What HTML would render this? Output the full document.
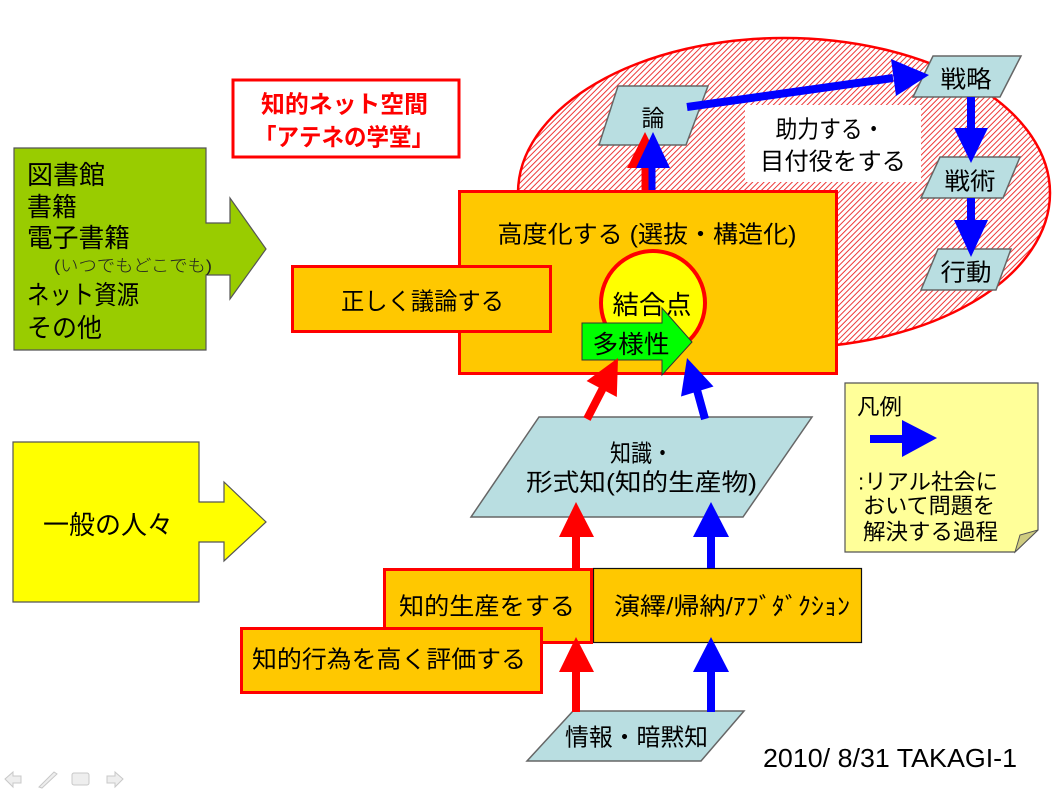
<!DOCTYPE html>
<html>
<head>
<meta charset="utf-8">
<style>
html,body{margin:0;padding:0;background:#fff;}
svg{display:block;}
text{font-family:"Liberation Sans","Noto Sans CJK JP",sans-serif;fill:#000;}
</style>
</head>
<body>
<svg width="1058" height="800" viewBox="0 0 1058 800" xmlns="http://www.w3.org/2000/svg">
<defs>
<pattern id="hatch" width="4" height="4" patternUnits="userSpaceOnUse" patternTransform="rotate(45)">
<rect width="4" height="4" fill="#fff"/>
<line x1="1" y1="0" x2="1" y2="4" stroke="#EE3838" stroke-width="1"/>
</pattern>
</defs>

<!-- ellipse -->
<ellipse cx="784" cy="193" rx="266" ry="155" fill="url(#hatch)" stroke="#FF0000" stroke-width="2.5"/>

<!-- white help box -->
<rect x="745" y="105" width="176" height="77" fill="#fff"/>
<text x="830" y="130" font-size="24" text-anchor="middle" dominant-baseline="central" textLength="109" lengthAdjust="spacingAndGlyphs">助力する・</text>
<text x="833" y="162" font-size="24" text-anchor="middle" dominant-baseline="central" textLength="146" lengthAdjust="spacingAndGlyphs">目付役をする</text>

<!-- right parallelograms -->
<polygon points="618,86 708,86 686,145 599,145" fill="#B9DEE1" stroke="#666" stroke-width="1.5"/>
<text x="653" y="118" font-size="23" text-anchor="middle" dominant-baseline="central">論</text>
<polygon points="933,56 1021,56 1000,97 913,97" fill="#B9DEE1" stroke="#666" stroke-width="1.5"/>
<text x="966" y="80" font-size="24" text-anchor="middle" dominant-baseline="central" textLength="51" lengthAdjust="spacingAndGlyphs">戦略</text>
<polygon points="940,157 1020,157 1003,198 921,198" fill="#B9DEE1" stroke="#666" stroke-width="1.5"/>
<text x="970" y="182" font-size="24" text-anchor="middle" dominant-baseline="central" textLength="51" lengthAdjust="spacingAndGlyphs">戦術</text>
<polygon points="938,249 1011,249 996,290 921,290" fill="#B9DEE1" stroke="#666" stroke-width="1.5"/>
<text x="966" y="273" font-size="24" text-anchor="middle" dominant-baseline="central" textLength="51" lengthAdjust="spacingAndGlyphs">行動</text>

<!-- blue diagonal arrow -->
<line x1="687" y1="107" x2="893" y2="78" stroke="#0000FF" stroke-width="8"/>
<polygon points="891,59 929,75 896,96" fill="#0000FF"/>
<!-- vertical blue arrows -->
<line x1="971" y1="97" x2="971" y2="130" stroke="#0000FF" stroke-width="8"/>
<polygon points="954,128 988,128 971,163" fill="#0000FF"/>
<line x1="971" y1="198" x2="971" y2="222" stroke="#0000FF" stroke-width="8"/>
<polygon points="954,220 988,220 971,257" fill="#0000FF"/>

<!-- title box -->
<rect x="233" y="80" width="226" height="77" fill="#fff" stroke="#FF0000" stroke-width="3"/>
<text x="344.5" y="105" font-size="24" font-weight="bold" text-anchor="middle" dominant-baseline="central" style="fill:#FF0000" textLength="167" lengthAdjust="spacingAndGlyphs">知的ネット空間</text>
<text x="344" y="138" font-size="24" font-weight="bold" text-anchor="middle" dominant-baseline="central" style="fill:#FF0000" textLength="180" lengthAdjust="spacingAndGlyphs">「アテネの学堂」</text>

<!-- green arrow box -->
<polygon points="14,148 206,148 206,223 230,223 230,198 266,249 230,299 230,275 206,275 206,350 14,350" fill="#99CC00" stroke="#555" stroke-width="1.2"/>
<text x="27" y="175" font-size="26" dominant-baseline="central" textLength="78" lengthAdjust="spacingAndGlyphs">図書館</text>
<text x="27" y="207" font-size="26" dominant-baseline="central" textLength="50" lengthAdjust="spacingAndGlyphs">書籍</text>
<text x="27" y="238" font-size="26" dominant-baseline="central" textLength="103" lengthAdjust="spacingAndGlyphs">電子書籍</text>
<text x="54" y="266" font-size="17" font-weight="300" dominant-baseline="central" textLength="158" lengthAdjust="spacingAndGlyphs" style="fill:#222">(いつでもどこでも)</text>
<text x="27" y="295" font-size="26" dominant-baseline="central" textLength="112" lengthAdjust="spacingAndGlyphs">ネット資源</text>
<text x="27" y="328" font-size="26" dominant-baseline="central" textLength="75" lengthAdjust="spacingAndGlyphs">その他</text>

<!-- arrows up into 論 -->
<line x1="645" y1="192" x2="645" y2="165" stroke="#FF0000" stroke-width="7"/>
<polygon points="627,168 663,168 645,132" fill="#FF0000"/>
<line x1="652" y1="192" x2="652" y2="165" stroke="#0000FF" stroke-width="7"/>
<polygon points="636,168 670,168 653,132" fill="#0000FF"/>

<!-- big orange box -->
<rect x="459.5" y="191.5" width="377" height="182" fill="#FFC800" stroke="#FF0000" stroke-width="3"/>
<text x="647" y="235" font-size="24" text-anchor="middle" dominant-baseline="central" textLength="299" lengthAdjust="spacingAndGlyphs">高度化する (選抜・構造化)</text>

<!-- circle -->
<circle cx="653" cy="303" r="52" fill="#FFFF00" stroke="#FF0000" stroke-width="4"/>
<text x="652" y="305" font-size="26" text-anchor="middle" dominant-baseline="central" textLength="79" lengthAdjust="spacingAndGlyphs">結合点</text>

<!-- green 多様性 arrow -->
<polygon points="582,323 662,323 662,308 692,342 662,375 662,360 582,360" fill="#00FF00" stroke="#333" stroke-width="1"/>
<text x="631" y="345" font-size="25" text-anchor="middle" dominant-baseline="central" textLength="77" lengthAdjust="spacingAndGlyphs">多様性</text>

<!-- 正しく議論する -->
<rect x="292.5" y="266.5" width="258" height="65" fill="#FFC800" stroke="#FF0000" stroke-width="3"/>
<text x="422.5" y="302" font-size="24" text-anchor="middle" dominant-baseline="central" textLength="163" lengthAdjust="spacingAndGlyphs">正しく議論する</text>

<!-- yellow arrow -->
<polygon points="13,442 199,442 199,502 224,502 224,482 266,522 224,561 224,542 199,542 199,602 13,602" fill="#FFFF00" stroke="#555" stroke-width="1.2"/>
<text x="108" y="525" font-size="26" text-anchor="middle" dominant-baseline="central" textLength="130" lengthAdjust="spacingAndGlyphs">一般の人々</text>

<!-- 知識 parallelogram -->
<polygon points="539,417 812,417 743,517 471,517" fill="#B9DEE1" stroke="#666" stroke-width="1.5"/>
<text x="641.5" y="454" font-size="24" text-anchor="middle" dominant-baseline="central" textLength="63" lengthAdjust="spacingAndGlyphs">知識・</text>
<text x="641.5" y="483" font-size="24" text-anchor="middle" dominant-baseline="central" textLength="231" lengthAdjust="spacingAndGlyphs">形式知(知的生産物)</text>

<!-- arrows from 知識 to orange box -->
<line x1="587" y1="419" x2="603" y2="388" stroke="#FF0000" stroke-width="8"/>
<polygon points="586.6,381 616.8,397 618,358" fill="#FF0000"/>
<line x1="705" y1="419" x2="697" y2="390" stroke="#0000FF" stroke-width="8"/>
<polygon points="681,396.5 713.5,386.5 687,358" fill="#0000FF"/>

<!-- bottom boxes -->
<rect x="593.5" y="568.5" width="268" height="74" fill="#FFC800" stroke="#111" stroke-width="1.2"/>
<text x="732" y="607" font-size="24" text-anchor="middle" dominant-baseline="central" textLength="236" lengthAdjust="spacingAndGlyphs">演繹/帰納/ｱﾌﾞﾀﾞｸｼｮﾝ</text>
<rect x="384.5" y="569.5" width="207" height="73" fill="#FFC800" stroke="#FF0000" stroke-width="3"/>
<text x="487" y="607" font-size="24" text-anchor="middle" dominant-baseline="central" textLength="176" lengthAdjust="spacingAndGlyphs">知的生産をする</text>
<rect x="241.5" y="628.5" width="300" height="64" fill="#FFC800" stroke="#FF0000" stroke-width="3"/>
<text x="389" y="660" font-size="24" text-anchor="middle" dominant-baseline="central" textLength="274" lengthAdjust="spacingAndGlyphs">知的行為を高く評価する</text>

<!-- upper vertical arrows -->
<line x1="576" y1="568" x2="576" y2="535" stroke="#FF0000" stroke-width="8"/>
<polygon points="559,537 594,537 576,502" fill="#FF0000"/>
<line x1="711" y1="568" x2="711" y2="535" stroke="#0000FF" stroke-width="8"/>
<polygon points="693,537 729,537 711,502" fill="#0000FF"/>

<!-- bottom parallelogram -->
<polygon points="573,711 744,711 701,761 527,761" fill="#B9DEE1" stroke="#666" stroke-width="1.5"/>
<text x="636.5" y="738" font-size="24" text-anchor="middle" dominant-baseline="central" textLength="143" lengthAdjust="spacingAndGlyphs">情報・暗黙知</text>

<!-- lower vertical arrows -->
<line x1="576" y1="712" x2="576" y2="670" stroke="#FF0000" stroke-width="8"/>
<polygon points="559,672 594,672 576,637" fill="#FF0000"/>
<line x1="711" y1="712" x2="711" y2="670" stroke="#0000FF" stroke-width="8"/>
<polygon points="693,672 729,672 711,637" fill="#0000FF"/>

<!-- legend -->
<polygon points="845,383 1038,383 1038,530 1015,552 845,552" fill="#FFFF99" stroke="#555" stroke-width="1.2"/>
<polygon points="1015,552 1020,535 1038,530" fill="#CFCC80" stroke="#555" stroke-width="1"/>
<text x="857" y="407" font-size="22" dominant-baseline="central" textLength="45" lengthAdjust="spacingAndGlyphs">凡例</text>
<rect x="870" y="435" width="33" height="8" fill="#0000FF"/>
<polygon points="902,420 902,457 937,438" fill="#0000FF"/>
<text x="858" y="482" font-size="22" dominant-baseline="central" textLength="140" lengthAdjust="spacingAndGlyphs">:リアル社会に</text>
<text x="863" y="506" font-size="22" dominant-baseline="central" textLength="132" lengthAdjust="spacingAndGlyphs">おいて問題を</text>
<text x="863" y="532" font-size="22" dominant-baseline="central" textLength="135" lengthAdjust="spacingAndGlyphs">解決する過程</text>

<!-- footer -->
<text x="763" y="767" font-size="26" textLength="254" lengthAdjust="spacingAndGlyphs">2010/ 8/31 TAKAGI-1</text>

<!-- nav icons -->
<g fill="#EEEEEE" stroke="#C8C8C8" stroke-width="1">
<polygon points="5,779 13,772 13,776 21,776 21,783 13,783 13,787"/>
<polygon points="39,787 54,772 57,774 42,788"/>
<rect x="72" y="773" width="17" height="12" rx="2"/>
<polygon points="123,779 115,772 115,776 107,776 107,783 115,783 115,787"/>
</g>
</svg>
</body>
</html>
